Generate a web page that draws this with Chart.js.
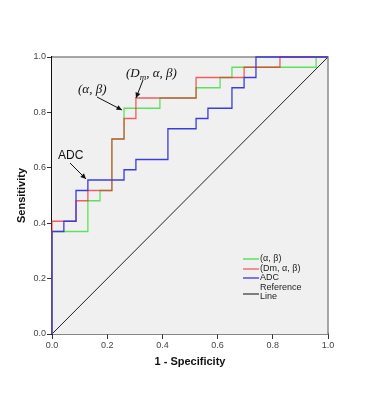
<!DOCTYPE html>
<html><head><meta charset="utf-8">
<script src="https://cdn.jsdelivr.net/npm/chart.js@4"></script>
<style>html,body{margin:0;padding:0;background:#fff}#wrap{width:391px;height:400px}</style>
</head><body><div id="wrap"><canvas id="c" width="391" height="400"></canvas></div>
<script>
const tickValues = [0, 0.2, 0.4, 0.6, 0.8, 1.0];
const tickLabels = ['0.0','0.2','0.4','0.6','0.8','1.0'];
const seriesNames = ['(\u03b1, \u03b2)', '(Dm, \u03b1, \u03b2)', 'ADC', 'Reference Line'];
const fprAB = [0,0,0.13,0.13,0.174,0.174,0.217,0.217,0.261,0.261,0.391,0.391,0.522,0.522,0.609,0.609,0.652,0.652,0.957,0.957,1];
const tprAB = [0,0.37,0.37,0.481,0.481,0.518,0.518,0.704,0.704,0.815,0.815,0.852,0.852,0.889,0.889,0.926,0.926,0.963,0.963,1,1];
const fprDm = [0,0,0.087,0.087,0.13,0.13,0.217,0.217,0.261,0.261,0.304,0.304,0.522,0.522,0.696,0.696,0.826,0.826,1];
const tprDm = [0,0.407,0.407,0.481,0.481,0.518,0.518,0.704,0.704,0.778,0.778,0.852,0.852,0.926,0.926,0.963,0.963,1,1];
const fprADC = [0,0,0.043,0.043,0.087,0.087,0.13,0.13,0.261,0.261,0.304,0.304,0.42,0.42,0.522,0.522,0.565,0.565,0.652,0.652,0.696,0.696,0.739,0.739,1];
const tprADC = [0,0.37,0.37,0.407,0.407,0.518,0.518,0.556,0.556,0.593,0.593,0.63,0.63,0.741,0.741,0.778,0.778,0.815,0.815,0.889,0.889,0.926,0.926,1,1];
const refX = [0, 1];
const refY = [0, 1];

const colors = ['#5fe05f', 'rgba(235,40,40,0.72)', '#3c3cdc', '#222222'];
const legendColors = ['#5fe05f', '#f07070', '#5050e0', '#333333'];

function pts(xs, ys){ return xs.map((x,i)=>({x:x, y:ys[i]})); }

const bgPlugin = {
  id:'bg',
  beforeDatasetsDraw(chart){
    const {ctx, chartArea:a} = chart;
    ctx.save();
    ctx.fillStyle = '#f0f0f0';
    ctx.fillRect(a.left, a.top, a.right-a.left, a.bottom-a.top);
    ctx.strokeStyle = '#8a8a8a';
    ctx.lineWidth = 1.5;
    ctx.beginPath();
    ctx.moveTo(a.left, a.top); ctx.lineTo(a.right, a.top); ctx.lineTo(a.right, a.bottom);
    ctx.stroke();
    ctx.restore();
  },
  afterDatasetsDraw(chart){
    const {ctx, chartArea:a} = chart;
    ctx.save();
    // axis titles
    ctx.fillStyle = '#111';
    ctx.font = 'bold 11px "Liberation Sans", Arial, sans-serif';
    ctx.textAlign = 'center'; ctx.textBaseline = 'middle';
    ctx.fillText('1 - Specificity', (a.left+a.right)/2, 362);
    ctx.save();
    ctx.translate(22, (a.top+a.bottom)/2);
    ctx.rotate(-Math.PI/2);
    ctx.fillText('Sensitivity', 0, 0);
    ctx.restore();
    // legend
    ctx.font = '9px "Liberation Sans", Arial, sans-serif';
    ctx.textAlign = 'left'; ctx.textBaseline = 'middle';
    const lx0 = 243, lx1 = 259;
    const rows = [259, 269, 278];
    for (let i=0;i<3;i++){
      ctx.strokeStyle = legendColors[i]; ctx.lineWidth = 1.5;
      ctx.beginPath(); ctx.moveTo(lx0, rows[i]); ctx.lineTo(lx1, rows[i]); ctx.stroke();
      ctx.fillStyle = '#222';
      ctx.fillText(seriesNames[i], 260, rows[i]);
    }
    ctx.strokeStyle = legendColors[3]; ctx.lineWidth = 1.2;
    ctx.beginPath(); ctx.moveTo(lx0, 294); ctx.lineTo(lx1, 294); ctx.stroke();
    ctx.fillStyle = '#222';
    ctx.fillText('Reference', 260, 288);
    ctx.fillText('Line', 260, 297);
    // annotations
    ctx.fillStyle = '#111';
    ctx.font = 'italic 13px "Liberation Serif", "Times New Roman", serif';
    ctx.textBaseline = 'alphabetic';
    ctx.fillText('(\u03b1, \u03b2)', 78, 93);
    let x = 126;
    ctx.fillText('(D', x, 77); x += ctx.measureText('(D').width;
    ctx.font = 'italic 9px "Liberation Serif", "Times New Roman", serif';
    ctx.fillText('m', x, 80); x += ctx.measureText('m').width;
    ctx.font = 'italic 13px "Liberation Serif", "Times New Roman", serif';
    ctx.fillText(', \u03b1, \u03b2)', x, 77);
    ctx.font = '12px "Liberation Sans", Arial, sans-serif';
    ctx.fillText('ADC', 58, 159);
    function arrow(x1,y1,x2,y2){
      ctx.strokeStyle = '#111'; ctx.fillStyle = '#111'; ctx.lineWidth = 1;
      ctx.beginPath(); ctx.moveTo(x1,y1); ctx.lineTo(x2,y2); ctx.stroke();
      const ang = Math.atan2(y2-y1, x2-x1), L = 6, W = 0.45;
      ctx.beginPath(); ctx.moveTo(x2,y2);
      ctx.lineTo(x2 - L*Math.cos(ang-W), y2 - L*Math.sin(ang-W));
      ctx.lineTo(x2 - L*Math.cos(ang+W), y2 - L*Math.sin(ang+W));
      ctx.closePath(); ctx.fill();
    }
    arrow(97, 97, 122, 110);
    arrow(143, 80, 136, 98);
    arrow(70, 163, 86, 179);
    ctx.restore();
  }
};

new Chart(document.getElementById('c'), {
  type: 'scatter',
  data: {
    datasets: [
      {label: seriesNames[0], data: pts(fprAB, tprAB), showLine:true, borderColor: colors[0], borderWidth:1.3, pointRadius:0, order:2, tension:0, clip:2},
      {label: seriesNames[1], data: pts(fprDm, tprDm), showLine:true, borderColor: colors[1], borderWidth:1.3, pointRadius:0, order:1, tension:0, clip:2},
      {label: seriesNames[2], data: pts(fprADC, tprADC), showLine:true, borderColor: colors[2], borderWidth:1.3, pointRadius:0, order:0, tension:0, clip:2},
      {label: seriesNames[3], data: pts(refX, refY), showLine:true, borderColor: colors[3], borderWidth:1, pointRadius:0, order:3, clip:2}
    ]
  },
  options: {
    responsive:false, animation:false, devicePixelRatio:1,
    layout:{padding:{top:57, right:63, left:0, bottom:0}},
    plugins:{legend:{display:false}, tooltip:{enabled:false}},
    scales:{
      x:{type:'linear', min:0, max:1,
        afterFit(s){ s.height = 66; },
        afterBuildTicks(s){ s.ticks = tickValues.map(v=>({value:v})); },
        grid:{display:true, drawOnChartArea:false, drawTicks:true, tickLength:5, color:'#333', lineWidth:1},
        border:{display:true, color:'#111', width:1.5},
        ticks:{padding:1, color:'#444', font:{size:9, family:'"Liberation Sans", Arial, sans-serif'}, maxRotation:0,
          callback:(v,i)=>tickLabels[i]}
      },
      y:{type:'linear', min:0, max:1,
        afterFit(s){ s.width = 52; },
        afterBuildTicks(s){ s.ticks = tickValues.map(v=>({value:v})); },
        grid:{display:true, drawOnChartArea:false, drawTicks:true, tickLength:5, color:'#333', lineWidth:1},
        border:{display:true, color:'#111', width:1.5},
        ticks:{padding:1, color:'#444', font:{size:9, family:'"Liberation Sans", Arial, sans-serif'},
          callback:(v,i)=>tickLabels[i]}
      }
    }
  },
  plugins:[bgPlugin]
});
</script></body></html>
